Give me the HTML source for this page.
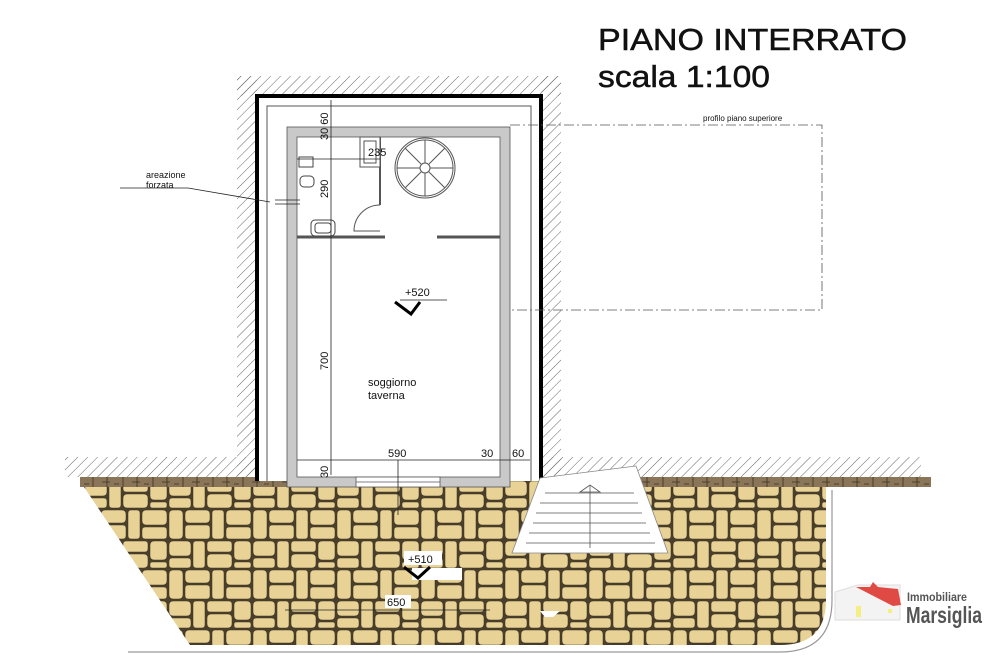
<!DOCTYPE html>
<html><head><meta charset="utf-8"><style>
html,body{margin:0;padding:0;background:#fff;width:1000px;height:672px;overflow:hidden}
text{font-family:"Liberation Sans",sans-serif}
</style></head><body>
<svg width="1000" height="672" viewBox="0 0 1000 672" xmlns="http://www.w3.org/2000/svg">
<defs>
<pattern id="hatch" width="7" height="7" patternUnits="userSpaceOnUse" patternTransform="rotate(45)">
<line x1="0" y1="0" x2="0" y2="7" stroke="#666" stroke-width="1"/>
</pattern>
<pattern id="stone" width="84" height="60" patternUnits="userSpaceOnUse">
<rect width="84" height="60" fill="#4a3f2a"/>
<g fill="#e8d296" stroke="#3a301f" stroke-width="0.5">
<rect x="1" y="1" width="22" height="15" rx="4"/>
<rect x="25" y="1" width="12" height="27" rx="3"/>
<rect x="39" y="1" width="25" height="11" rx="3"/>
<rect x="66" y="1" width="17" height="19" rx="4"/>
<rect x="39" y="14" width="25" height="14" rx="4"/>
<rect x="1" y="18" width="22" height="10" rx="3"/>
<rect x="1" y="30" width="14" height="29" rx="4"/>
<rect x="17" y="30" width="25" height="13" rx="4"/>
<rect x="17" y="45" width="25" height="14" rx="3"/>
<rect x="44" y="30" width="12" height="29" rx="3"/>
<rect x="58" y="30" width="25" height="15" rx="4"/>
<rect x="66" y="22" width="17" height="6" rx="2"/>
<rect x="58" y="47" width="25" height="12" rx="3"/>
</g>
</pattern>
<pattern id="band" width="30" height="10" patternUnits="userSpaceOnUse">
<rect width="30" height="10" fill="#8a7558"/>
<path d="M3 0v10M12 2h8M17 0v10M24 4h5" stroke="#3c3322" stroke-width="0.8"/>
</pattern>
</defs>

<!-- title -->
<text x="598" y="50" font-size="31" fill="#111" stroke="#111" stroke-width="0.5" textLength="309" lengthAdjust="spacingAndGlyphs">PIANO INTERRATO</text>
<text x="598" y="87" font-size="31" fill="#111" stroke="#111" stroke-width="0.5" textLength="172" lengthAdjust="spacingAndGlyphs">scala 1:100</text>

<!-- ground hatching -->
<rect x="65" y="457" width="192" height="20" fill="url(#hatch)"/>
<rect x="541" y="457" width="380" height="20" fill="url(#hatch)"/>
<rect x="237" y="76" width="20" height="401" fill="url(#hatch)"/>
<rect x="237" y="76" width="324" height="20" fill="url(#hatch)"/>
<rect x="541" y="76" width="20" height="401" fill="url(#hatch)"/>

<!-- stone mass -->
<path d="M80 481 H826 V600 Q826 645 780 645 H190 Z" fill="url(#stone)"/>
<path d="M832 490 V600 Q832 652 780 652 H128" fill="none" stroke="#999" stroke-width="1.2"/>
<rect x="80" y="477" width="210" height="10" fill="url(#band)"/>
<rect x="640" y="477" width="291" height="10" fill="url(#band)"/>

<!-- building -->
<rect x="257" y="96" width="284" height="385" fill="#fff"/>
<path d="M257 481 V96 H541 V481" fill="none" stroke="#000" stroke-width="4"/>
<path d="M267 481 V106 H531 V481" fill="none" stroke="#555" stroke-width="1"/>
<rect x="287" y="127" width="223" height="360" fill="#c9c9c9" stroke="#555" stroke-width="0.8"/>
<rect x="297" y="137" width="203" height="340" fill="#fff" stroke="#555" stroke-width="0.8"/>
<rect x="356" y="477" width="84" height="10" fill="#fff" stroke="#555" stroke-width="0.8"/>
<line x1="356" y1="482" x2="440" y2="482" stroke="#555" stroke-width="0.8"/>

<!-- internal partitions -->
<path d="M297 237 H385 M437 237 H500" stroke="#555" stroke-width="3"/>
<path d="M380 137 V205" stroke="#555" stroke-width="2"/>
<path d="M380 205 A26 26 0 0 0 354 231 H380" fill="none" stroke="#555" stroke-width="1"/>
<rect x="360" y="137" width="20" height="30" fill="#fff" stroke="#555"/>
<rect x="364" y="141" width="12" height="22" fill="none" stroke="#555"/>
<rect x="299" y="157" width="14" height="10" fill="none" stroke="#444"/>
<rect x="300" y="176" width="14" height="11" rx="4" fill="none" stroke="#444"/>
<rect x="311" y="220" width="24" height="16" rx="4" fill="none" stroke="#444"/>
<rect x="315" y="223" width="16" height="10" rx="3" fill="none" stroke="#444"/>
<!-- spiral stair -->
<g stroke="#555" fill="none">
<circle cx="425" cy="168" r="30"/><circle cx="425" cy="168" r="28"/>
<circle cx="425" cy="168" r="5"/>
<path d="M425 140 V163 M425 173 V196 M397 168 H420 M430 168 H453 M405 148 L421 164 M429 172 L445 188 M445 148 L429 164 M421 172 L405 188"/>
</g>

<!-- dims -->
<g stroke="#222" stroke-width="0.8" fill="none">
<line x1="331" y1="100" x2="331" y2="475"/>
<line x1="297" y1="159" x2="380" y2="159"/>
<line x1="297" y1="460" x2="530" y2="460"/>
<line x1="400" y1="300" x2="447" y2="300"/>
<line x1="398" y1="460" x2="398" y2="515"/>
<line x1="285" y1="610" x2="490" y2="610"/>
<path d="M120 188 H188 L270 202"/><path d="M275 200 H300 M275 204 H300"/>
</g>
<path d="M395 302 L411 314 L420 302" fill="none" stroke="#000" stroke-width="3"/>
<g font-size="11" fill="#111">
<text x="368" y="156">235</text>
<text x="405" y="296">+520</text>
<text x="368" y="386">soggiorno</text>
<text x="368" y="399">taverna</text>
<text x="388" y="457">590</text>
<text x="481" y="457">30</text>
<text x="512" y="457">60</text>
<text x="146" y="178" font-size="9">areazione</text>
<text x="146" y="188" font-size="9">forzata</text>
<text x="703" y="121" font-size="8">profilo piano superiore</text>
<text transform="translate(328,140) rotate(-90)">30 60</text>
<text transform="translate(328,198) rotate(-90)">290</text>
<text transform="translate(328,370) rotate(-90)">700</text>
<text transform="translate(328,478) rotate(-90)">30</text>
</g>
<!-- profilo -->
<path d="M510 125 H822 V310 H510" fill="none" stroke="#555" stroke-width="0.8" stroke-dasharray="10 3 2 3"/>

<!-- lower labels -->
<rect x="404" y="551" width="38" height="14" fill="#fff"/>
<text x="408" y="563" font-size="11" fill="#111">+510</text>
<rect x="412" y="568" width="50" height="12" fill="#fff"/>
<path d="M404 567 L418 578 L430 567" fill="none" stroke="#000" stroke-width="3"/>
<rect x="385" y="595" width="26" height="13" fill="#fff"/>
<text x="387" y="606" font-size="11" fill="#111">650</text>
<path d="M540 611 H560 L553 617 H545 Z" fill="#fff"/>

<!-- external stairs -->
<path d="M540 478 L636 466 L668 553 L512 553 Z" fill="#fff" stroke="#888" stroke-width="0.8"/>
<g stroke="#555" stroke-width="0.8">
<line x1="545" y1="493" x2="634" y2="493"/><line x1="540" y1="503" x2="638" y2="503"/>
<line x1="536" y1="513" x2="642" y2="513"/><line x1="533" y1="523" x2="646" y2="523"/>
<line x1="529" y1="533" x2="650" y2="533"/><line x1="526" y1="543" x2="655" y2="543"/>
<line x1="590" y1="486" x2="590" y2="548"/>
<path d="M580 492 L590 485 L600 492 Z" fill="none"/>
</g>

<!-- logo -->
<path d="M835 605 V592 L858 585 H900 V620 H835 Z" fill="#f3f3f3" stroke="#ddd"/>
<path d="M856 587 L870 587 L873 582 L878 587 L898 589 L901 605 L893 606 Z" fill="#e04a44"/>
<rect x="856" y="606" width="5" height="11" fill="#f4ef80"/>
<rect x="888" y="609" width="4" height="4" fill="#f4ef80"/>
<text x="907" y="601" font-size="12" font-weight="bold" fill="#555" textLength="60" lengthAdjust="spacingAndGlyphs">Immobiliare</text>
<text x="906" y="623" font-size="23" font-weight="bold" fill="#555" textLength="76" lengthAdjust="spacingAndGlyphs">Marsiglia</text>
</svg>
</body></html>
